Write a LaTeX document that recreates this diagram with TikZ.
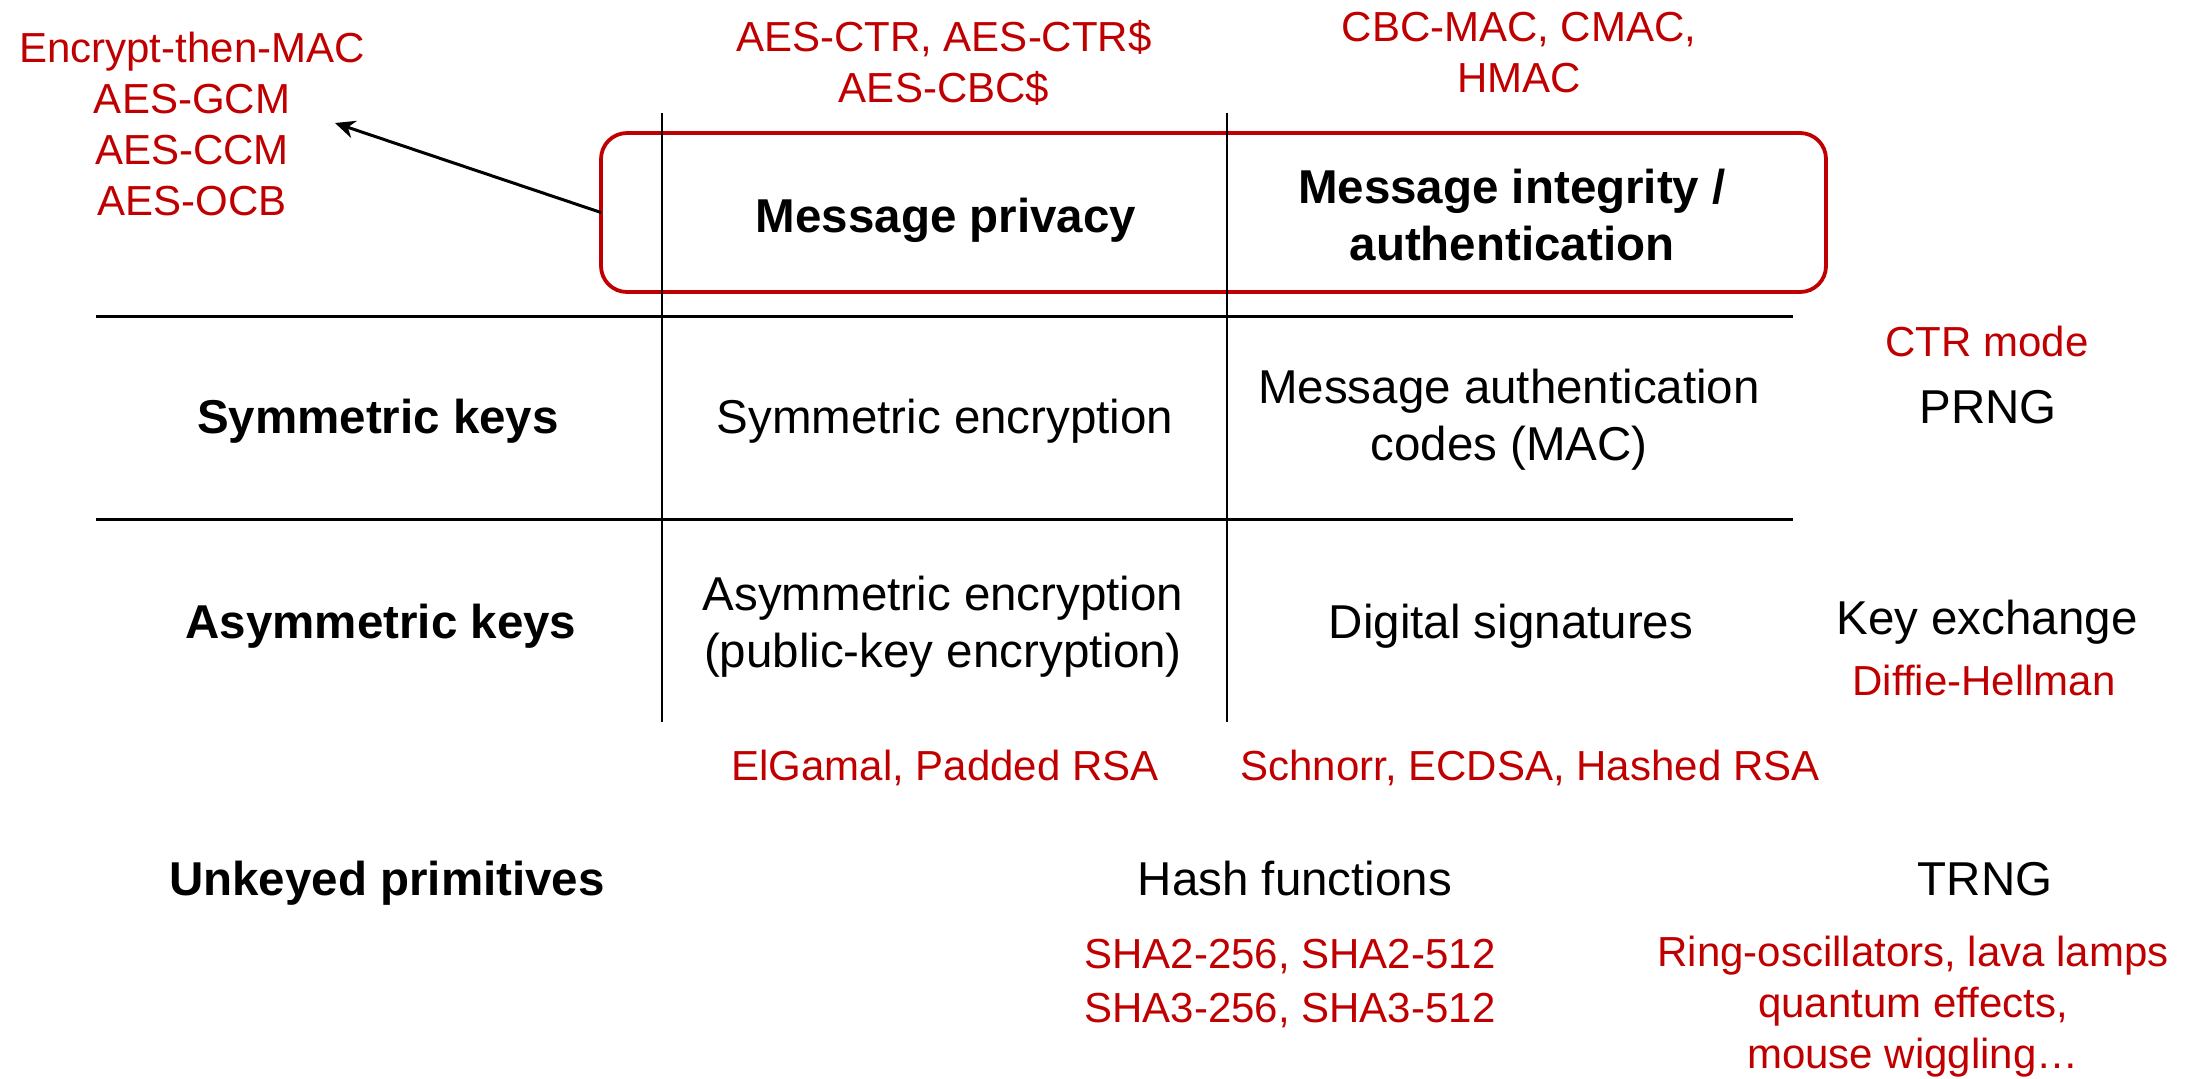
\documentclass[tikz,border=0pt]{standalone}
\usepackage{fontspec}
\setmainfont{Liberation Sans}
\usetikzlibrary{arrows.meta}
\definecolor{dred}{RGB}{192,0,0}
\begin{document}
\begin{tikzpicture}[x=0.5pt,y=-0.5pt,
  txt/.style={font=\fontsize{23.75}{28.5}\selectfont, inner sep=0pt, anchor=base, align=center},
  bld/.style={txt, font=\fontsize{23.75}{28.5}\selectfont\bfseries},
  ex/.style={txt, text=dred, font=\fontsize{21}{25.5}\selectfont},
  hline/.style={line width=1.5pt},
  vline/.style={line width=1.05pt},
  focusbox/.style={draw=dred, line width=1.9pt, rounded corners=13pt, inner sep=0pt, outer sep=0pt,
    minimum width=612.5pt, minimum height=79.5pt},
  pointer/.style={line width=1.5pt, -{Stealth[length=10pt,width=9pt]}}]
\useasboundingbox (0,0) rectangle (2200,1078);

% focus box
\node[focusbox] (focus) at (1213.5,212.5) {};

% grid coordinates
\coordinate (h1l) at (96,316);
\coordinate (h1r) at (1793,316);
\coordinate (h2l) at (96,519);
\coordinate (h2r) at (1793,519);
\coordinate (v1t) at (662,113);
\coordinate (v1b) at (662,722);
\coordinate (v2t) at (1227,113);
\coordinate (v2b) at (1227,722);
\draw[hline] (h1l) -- (h1r);
\draw[hline] (h2l) -- (h2r);
\draw[vline] (v1t) -- (v1b);
\draw[vline] (v2t) -- (v2b);

% top examples (multi-line nodes: base = last line's baseline)
\node[ex] (ae) at (192,215) {Encrypt-then-MAC\\AES-GCM\\AES-CCM\\AES-OCB};
\node[ex] (ctr) at (944,102) {AES-CTR, AES-CTR\$\\AES-CBC\$};
\node[ex] (cbc) at (1519,92) {CBC-MAC, CMAC,\\HMAC};

\coordinate (arrowtip) at (335,123);
\draw[pointer] (focus.west) -- (arrowtip);

% header
\node[bld] (priv) at (946,232) {Message privacy};
\node[bld] (integ) at (1512,260) {Message integrity /\\authentication};

% symmetric row
\node[bld] (symk) at (378,433) {Symmetric keys};
\node[txt] (syme) at (945,433) {Symmetric encryption};
\node[txt] (mac) at (1509,460) {Message authentication\\codes (MAC)};
\node[ex] (ctrmode) at (1987,356) {CTR mode};
\node[txt] (prng) at (1988,423) {PRNG};

% asymmetric row
\node[bld] (asymk) at (381,638) {Asymmetric keys};
\node[txt] (asyme) at (943,667) {Asymmetric encryption\\(public-key encryption)};
\node[txt] (sig) at (1511,638) {Digital signatures};
\node[txt] (kex) at (1987,634) {Key exchange};
\node[ex] (dh) at (1984,695) {Diffie-Hellman};
\node[ex] (elg) at (945,780) {ElGamal, Padded RSA};
\node[ex] (sch) at (1530,780) {Schnorr, ECDSA, Hashed RSA};

% unkeyed row
\node[bld] (unk) at (387,895) {Unkeyed primitives};
\node[txt] (hash) at (1295,895) {Hash functions};
\node[txt] (trng) at (1985,895) {TRNG};
\node[ex, font=\fontsize{21}{27}\selectfont] (sha) at (1290,1022) {SHA2-256, SHA2-512\\SHA3-256, SHA3-512};
\node[ex] (ring) at (1913,1068) {Ring-oscillators, lava lamps\\quantum effects,\\mouse wiggling…};
\end{tikzpicture}
\end{document}
